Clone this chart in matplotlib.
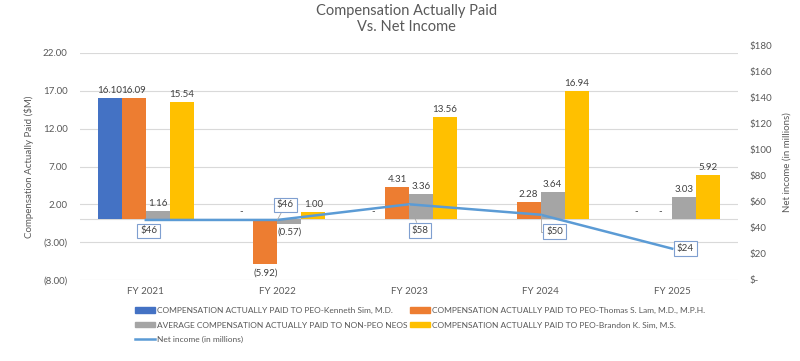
import numpy as np
import matplotlib
matplotlib.use("Agg")
import matplotlib.pyplot as plt
from matplotlib.patches import Patch
from matplotlib.lines import Line2D

plt.rcParams['font.family'] = ['Lato', 'DejaVu Sans']

# data
years = ["FY 2021", "FY 2022", "FY 2023", "FY 2024", "FY 2025"]
cap_kenneth = [16.10, 0.0, 0.0, 0.0, 0.0]
cap_thomas = [16.09, -5.92, 4.31, 2.28, 0.0]
cap_neos = [1.16, -0.57, 3.36, 3.64, 3.03]
cap_brandon = [15.54, 1.00, 13.56, 16.94, 5.92]
net_income = [46, 46, 58, 50, 24]

series_names = ["COMPENSATION ACTUALLY PAID TO PEO-Kenneth Sim, M.D.",
                "COMPENSATION ACTUALLY PAID TO PEO-Thomas S. Lam, M.D., M.P.H.",
                "AVERAGE COMPENSATION ACTUALLY PAID TO NON-PEO NEOS",
                "COMPENSATION ACTUALLY PAID TO PEO-Brandon K. Sim, M.S."]
line_name = "Net income (in millions)"

colors = ["#4472c4", "#ed7d31", "#a5a5a5", "#ffc000"]
line_color = "#5b9bd5"
txt = "#595959"

W, H = 800, 361
fig = plt.figure(figsize=(8, 3.61), dpi=100)

left, right = 80 / W, 738 / W
bottom = 1 - 280 / H
top = 1 - 53 / H
ax = fig.add_axes([left, bottom, right - left, top - bottom])

x = np.arange(len(years))
w = 0.182
all_series = [cap_kenneth, cap_thomas, cap_neos, cap_brandon]


def fmt(v):
    if abs(v) < 1e-9:
        return "-"
    if v < 0:
        return "({:.2f})".format(-v)
    return "{:.2f}".format(v)


for i, (vals, c) in enumerate(zip(all_series, colors)):
    xs = x + (i - 1.5) * w
    ax.bar(xs, vals, width=w, color=c, zorder=2)
    for xi, v in zip(xs, vals):
        if v < 0:
            ax.annotate(fmt(v), (xi, v), xytext=(0, -4), textcoords="offset pixels",
                        ha="center", va="top", fontsize=7, color="#404040")
        else:
            ax.annotate(fmt(v), (xi, v), xytext=(0, 3), textcoords="offset pixels",
                        ha="center", va="bottom", fontsize=7, color="#404040")

ax.set_xlim(-0.5, len(years) - 0.5)
ax.set_ylim(-8, 22)
yt = np.arange(-8, 23, 5)
ax.set_yticks(yt)
ax.set_yticklabels([fmt(v) for v in yt])
ax.set_xticks(x)
ax.set_xticklabels(years)
ax.tick_params(axis="both", length=0, labelsize=7, labelcolor=txt)
ax.tick_params(axis="y", pad=9)
ax.tick_params(axis="x", pad=5)
ax.grid(axis="y", color="#d9d9d9", lw=0.8, zorder=0)
ax.axhline(0, color="#d9d9d9", lw=0.8, zorder=1)
for s in ax.spines.values():
    s.set_visible(False)
ax.set_ylabel("Compensation Actually Paid ($M)", fontsize=7, color=txt, labelpad=6)

# secondary axis for net income (Excel places its labels slightly higher)
top2 = 1 - 45 / H
ax2 = fig.add_axes([left, bottom, right - left, top2 - bottom])
ax2.patch.set_visible(False)
ax2.set_xlim(-0.5, len(years) - 0.5)
ax2.set_ylim(0, 180)
ax2.plot(x, net_income, color=line_color, lw=1.8, zorder=3)
yt2 = np.arange(0, 181, 20)
ax2.set_yticks(yt2)
ax2.set_yticklabels(["$-" if v == 0 else "${}".format(v) for v in yt2])
ax2.yaxis.tick_right()
ax2.yaxis.set_label_position("right")
ax2.set_xticks([])
ax2.tick_params(axis="y", length=0, labelsize=7, labelcolor=txt, pad=8)
for s in ax2.spines.values():
    s.set_visible(False)
ax2.set_ylabel("Net income (in millions)", fontsize=7, color=txt, labelpad=8)

# line labels (pixel offsets from each point)
offsets = [(3, -11), (8, 15), (11, -26), (14, -17), (13, 0)]
box = dict(boxstyle="square,pad=0.3", fc="white", ec="#7f9fd0", lw=0.8)
for i, (xi, v) in enumerate(zip(x, net_income)):
    dx, dy = offsets[i]
    arrow = None
    if i == 1 or i == 2:
        arrow = dict(arrowstyle="-", color="#a6a6a6", lw=0.6, shrinkA=0, shrinkB=0)
    if i == 3:
        arrow = dict(arrowstyle="-", color="#a6a6a6", lw=0.6, shrinkA=0, shrinkB=0,
                     connectionstyle="angle,angleA=0,angleB=90,rad=0")
    ax2.annotate("${}".format(v), (xi, v), xytext=(dx, dy), textcoords="offset pixels",
                 ha="center", va="center", fontsize=7, color="#404040", bbox=box,
                 arrowprops=arrow, zorder=5)

fig.text(0.508, 1 - 19 / H, "Compensation Actually Paid\nVs. Net Income", ha="center", va="center",
         fontsize=10.5, color=txt, linespacing=1.15)

# legend: two separately placed columns
leg_kw = dict(frameon=False, prop={"size": 6.0}, labelcolor=txt, handlelength=2.4, handleheight=0.6,
              handletextpad=0.2, labelspacing=0.9, borderaxespad=0, borderpad=0)
col1 = fig.legend([Patch(color=colors[0]), Patch(color=colors[2]), Line2D([], [], color=line_color, lw=1.8)],
                  [series_names[0], series_names[2], line_name], loc="upper left",
                  bbox_to_anchor=(135 / W, 1 - 307 / H), **leg_kw)
col2 = fig.legend([Patch(color=colors[1]), Patch(color=colors[3])],
                  [series_names[1], series_names[3]], loc="upper left",
                  bbox_to_anchor=(410 / W, 1 - 307 / H), **leg_kw)

fig.savefig("out.png", dpi=100)
